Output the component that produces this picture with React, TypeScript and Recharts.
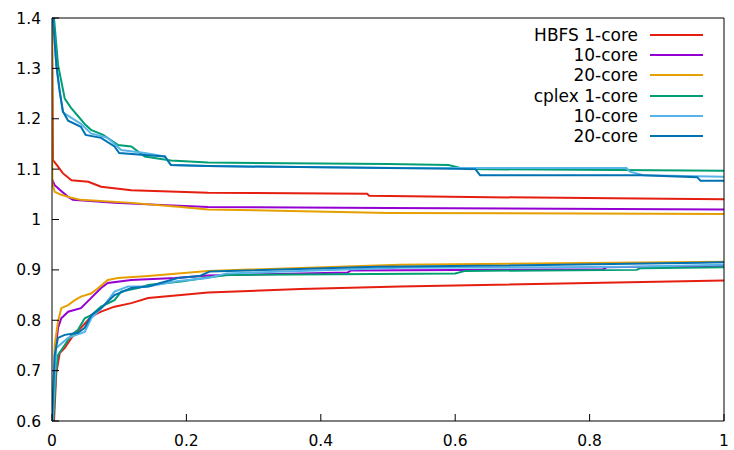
import React from 'react'
import { LineChart, Line, XAxis, YAxis } from 'recharts'

type Pt = [number, number]

// upper curves (ratio > 1)
const hbfs1Upper: Pt[] = [
  [0, 1.4], [0.001, 1.22], [0.0015, 1.118], [0.009, 1.105], [0.016, 1.092], [0.029, 1.078],
  [0.054, 1.075], [0.073, 1.065], [0.118, 1.058], [0.232, 1.053], [0.469, 1.051], [0.472, 1.047],
  [0.592, 1.045], [0.915, 1.041], [1, 1.04],
]
const hbfs10Upper: Pt[] = [
  [0, 1.08], [0.004, 1.068], [0.0115, 1.059], [0.024, 1.045], [0.031, 1.039], [0.093, 1.033],
  [0.232, 1.025], [0.5, 1.023], [1, 1.02],
]
const hbfs20Upper: Pt[] = [
  [0, 1.4], [0.0005, 1.072], [0.004, 1.055], [0.0138, 1.049], [0.029, 1.043], [0.043, 1.039],
  [0.118, 1.033], [0.192, 1.025], [0.232, 1.02], [0.5, 1.013], [1, 1.011],
]
const cplex1Upper: Pt[] = [
  [0.003, 1.4], [0.009, 1.307], [0.019, 1.24], [0.028, 1.222], [0.039, 1.205], [0.049, 1.189],
  [0.058, 1.178], [0.076, 1.168], [0.098, 1.148], [0.118, 1.145], [0.138, 1.125], [0.177, 1.117],
  [0.232, 1.113], [0.5, 1.11], [0.59, 1.108], [0.615, 1.1], [1, 1.097],
]
const cplex10Upper: Pt[] = [
  [0.0015, 1.4], [0.0064, 1.307], [0.0115, 1.254], [0.016, 1.214], [0.019, 1.21], [0.043, 1.19],
  [0.058, 1.171], [0.083, 1.162], [0.103, 1.138], [0.138, 1.132], [0.168, 1.125], [0.177, 1.108],
  [0.232, 1.106], [0.518, 1.102], [0.855, 1.102], [0.86, 1.095], [0.88, 1.088], [1, 1.085],
]
const cplex20Upper: Pt[] = [
  [0.0015, 1.4], [0.0064, 1.307], [0.0115, 1.254], [0.0164, 1.214], [0.024, 1.196], [0.043, 1.184],
  [0.05, 1.168], [0.073, 1.162], [0.093, 1.145], [0.1, 1.132], [0.138, 1.128], [0.168, 1.125],
  [0.177, 1.108], [0.232, 1.106], [0.5, 1.102], [0.63, 1.1], [0.637, 1.088], [0.88, 1.088],
  [0.96, 1.084], [0.965, 1.077], [1, 1.077],
]

// lower curves (ratio < 1)
const hbfs1Lower: Pt[] = [
  [0.003, 0.6], [0.004, 0.628], [0.0064, 0.695], [0.0115, 0.735], [0.019, 0.745], [0.029, 0.765],
  [0.038, 0.778], [0.043, 0.785], [0.058, 0.807], [0.073, 0.817], [0.093, 0.827], [0.118, 0.834],
  [0.143, 0.844], [0.192, 0.85], [0.232, 0.855], [0.37, 0.862], [0.518, 0.867], [1, 0.879],
]
const hbfs10Lower: Pt[] = [
  [0.001, 0.6], [0.005, 0.74], [0.009, 0.785], [0.0138, 0.804], [0.024, 0.817], [0.043, 0.824],
  [0.058, 0.844], [0.073, 0.864], [0.083, 0.874], [0.118, 0.88], [0.183, 0.884], [0.232, 0.889],
  [0.44, 0.895], [0.445, 0.899], [0.82, 0.901], [0.825, 0.905], [1, 0.908],
]
const hbfs20Lower: Pt[] = [
  [0.001, 0.6], [0.004, 0.75], [0.0089, 0.797], [0.0138, 0.824], [0.024, 0.83], [0.034, 0.84],
  [0.043, 0.847], [0.058, 0.853], [0.068, 0.863], [0.083, 0.88], [0.098, 0.884], [0.143, 0.888],
  [0.232, 0.898], [0.518, 0.91], [1, 0.916],
]
const cplex1Lower: Pt[] = [
  [0.002, 0.6], [0.006, 0.7], [0.0089, 0.731], [0.019, 0.751], [0.0287, 0.771], [0.0387, 0.781],
  [0.0487, 0.804], [0.0585, 0.81], [0.073, 0.827], [0.093, 0.84], [0.103, 0.857], [0.128, 0.864],
  [0.143, 0.87], [0.192, 0.877], [0.232, 0.885], [0.26, 0.89], [0.6, 0.893], [0.615, 0.898],
  [0.87, 0.9], [0.875, 0.903], [1, 0.905],
]
const cplex10Lower: Pt[] = [
  [0.001, 0.6], [0.0064, 0.745], [0.0238, 0.765], [0.0487, 0.777], [0.0585, 0.804], [0.078, 0.83],
  [0.093, 0.857], [0.113, 0.867], [0.143, 0.867], [0.1875, 0.878], [0.232, 0.884], [0.26, 0.893],
  [0.518, 0.904], [0.86, 0.906], [1, 0.91],
]
const cplex20Lower: Pt[] = [
  [0, 0.6], [0.004, 0.731], [0.0089, 0.765], [0.019, 0.771], [0.0387, 0.775], [0.0487, 0.785],
  [0.0585, 0.81], [0.073, 0.824], [0.093, 0.85], [0.118, 0.864], [0.143, 0.867], [0.1875, 0.884],
  [0.22, 0.888], [0.235, 0.897], [0.484, 0.906], [0.632, 0.908], [0.964, 0.914], [1, 0.915],
]

const seriesNames = ['HBFS 1-core', '10-core', '20-core', 'cplex 1-core', '10-core', '20-core']
const seriesColors = ['#e51e10', '#9400d3', '#e69f00', '#009e73', '#56b4e9', '#0072b2']
const upperCurves = [hbfs1Upper, hbfs10Upper, hbfs20Upper, cplex1Upper, cplex10Upper, cplex20Upper]
const lowerCurves = [hbfs1Lower, hbfs10Lower, hbfs20Lower, cplex1Lower, cplex10Lower, cplex20Lower]

const xTicks = [0, 0.2, 0.4, 0.6, 0.8, 1]
const yTicks = [0.6, 0.7, 0.8, 0.9, 1, 1.1, 1.2, 1.3, 1.4]

const FONT = '"DejaVu Sans", sans-serif'
const fmt = (v: number) => String(+v.toFixed(1))
const toRows = (pts: Pt[]) => pts.map(([x, y]) => ({ x, y }))

const BottomTick = ({ x, y, payload }: any) => (
  <g>
    <line x1={x} x2={x} y1={y} y2={y - 7} stroke="#000" />
    <text x={x} y={y + 25} textAnchor="middle" fontSize={15.5} fontFamily={FONT} fill="#000">
      {fmt(payload.value)}
    </text>
  </g>
)
const TopTick = ({ x, y }: any) => <line x1={x} x2={x} y1={y} y2={y + 7} stroke="#000" />
const LeftTick = ({ x, y, payload }: any) => (
  <g>
    <line x1={x} x2={x + 7} y1={y} y2={y} stroke="#000" />
    <text x={x - 11} y={y} dy="0.36em" textAnchor="end" fontSize={15.5} fontFamily={FONT} fill="#000">
      {fmt(payload.value)}
    </text>
  </g>
)
const RightTick = ({ x, y }: any) => <line x1={x} x2={x - 7} y1={y} y2={y} stroke="#000" />

// key drawn over the plot, top right, like gnuplot's
const KeyBox = () => (
  <div
    style={{
      position: 'absolute', top: 25, left: 420, width: 283,
      fontFamily: FONT, fontSize: 17, color: '#000', pointerEvents: 'none',
    }}
  >
    {seriesNames.map((name, i) => (
      <div key={i} style={{ display: 'flex', alignItems: 'center', height: 20.2 }}>
        <span style={{ flex: 1, textAlign: 'right', whiteSpace: 'nowrap' }}>{name}</span>
        <svg width={53} height={4} style={{ marginLeft: 12 }}>
          <line x1={0} x2={53} y1={2} y2={2} stroke={seriesColors[i]} strokeWidth={2} />
        </svg>
      </div>
    ))}
  </div>
)

export default function App() {
  return (
    <div style={{ position: 'absolute', left: 0, top: 0, width: 734, height: 450, background: '#fff' }}>
      <LineChart width={734} height={450} margin={{ top: 0, right: 0, bottom: 0, left: 0 }}>
        <XAxis
          xAxisId="b"
          type="number"
          dataKey="x"
          domain={[0, 1]}
          ticks={xTicks}
          orientation="bottom"
          height={29}
          tickSize={0}
          tickMargin={0}
          tickLine={false}
          tick={<BottomTick />}
          axisLine={{ stroke: '#000' }}
          allowDataOverflow
        />
        <XAxis
          xAxisId="t"
          type="number"
          domain={[0, 1]}
          ticks={xTicks}
          orientation="top"
          height={18}
          tickSize={0}
          tickMargin={0}
          tickLine={false}
          tick={<TopTick />}
          axisLine={{ stroke: '#000' }}
        />
        <YAxis
          yAxisId="l"
          type="number"
          domain={[0.6, 1.4]}
          ticks={yTicks}
          width={52}
          tickSize={0}
          tickMargin={0}
          tickLine={false}
          tick={<LeftTick />}
          axisLine={{ stroke: '#000' }}
          allowDataOverflow
        />
        <YAxis
          yAxisId="r"
          type="number"
          orientation="right"
          domain={[0.6, 1.4]}
          ticks={yTicks}
          width={10}
          tickSize={0}
          tickMargin={0}
          tickLine={false}
          tick={<RightTick />}
          axisLine={{ stroke: '#000' }}
        />
        {seriesNames.map((name, i) => (
          <Line
            key={`u${i}`}
            xAxisId="b"
            yAxisId="l"
            data={toRows(upperCurves[i])}
            dataKey="y"
            name={name}
            stroke={seriesColors[i]}
            strokeWidth={2}
            dot={false}
            type="linear"
            isAnimationActive={false}
          />
        ))}
        {seriesNames.map((name, i) => (
          <Line
            key={`l${i}`}
            xAxisId="b"
            yAxisId="l"
            data={toRows(lowerCurves[i])}
            dataKey="y"
            name={name}
            stroke={seriesColors[i]}
            strokeWidth={2}
            dot={false}
            type="linear"
            isAnimationActive={false}
          />
        ))}
      </LineChart>
      <KeyBox />
    </div>
  )
}
